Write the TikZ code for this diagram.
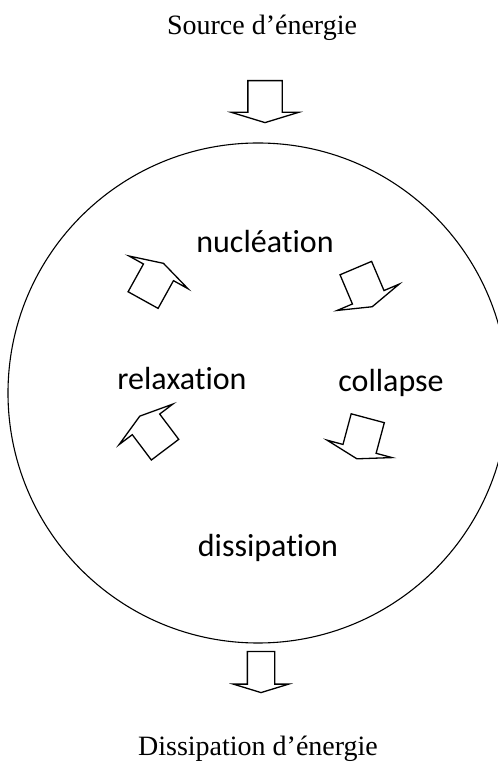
\documentclass[tikz,border=0pt]{standalone}
\usepackage{fontspec}
\setmainfont{Liberation Serif}
\newfontfamily\cyclefont[Ligatures=NoCommon]{Carlito}
\usepackage{tikz}
\usetikzlibrary{shapes,arrows,positioning}

\begin{document}
\begin{tikzpicture}[x=1pt,y=1pt,
  blockarrow/.style={draw,single arrow,line width=1.3pt,minimum height=42pt,inner xsep=0pt,inner ysep=16.5pt,single arrow head extend=16.5pt,single arrow tip angle=146},
  cyclelabel/.style={font=\cyclefont\fontsize{32}{36}\selectfont,inner sep=0pt,anchor=base},
  energylabel/.style={font=\fontsize{28}{32}\selectfont,inner sep=0pt,anchor=base}]
\useasboundingbox (0,0) rectangle (498,764);

%Energy in and out
\node[energylabel] (source) at (262,729) {Source d’énergie};
\node[blockarrow,rotate=-90] (inArrow) at (265,665) {};
\node[blockarrow,rotate=-90,minimum height=41pt,inner ysep=13pt,single arrow head extend=14pt] (outArrow) at (261,94) {};
\node[energylabel] (sink) at (258,9) {Dissipation d’énergie};

% System
\node[draw,circle,line width=1.1pt,minimum size=500pt,inner sep=0pt] (system) at (258,371) {};

% Cycle
\node[cyclelabel] (nucleation) at (265,511) {nucléation};
\node[cyclelabel] (collapse) at (391,372) {collapse};
\node[cyclelabel] (dissipation) at (268,207) {dissipation};
\node[cyclelabel] (relaxation) at (182,374) {relaxation};

\node[blockarrow,rotate=-67] (nucToCol) at (363,479) {};
\node[blockarrow,rotate=-105] (colToDis) at (363,328) {};
\node[blockarrow,rotate=127] (disToRel) at (154,329) {};
\node[blockarrow,rotate=61] (relToNuc) at (152,480) {};

\end{tikzpicture}
\end{document}
